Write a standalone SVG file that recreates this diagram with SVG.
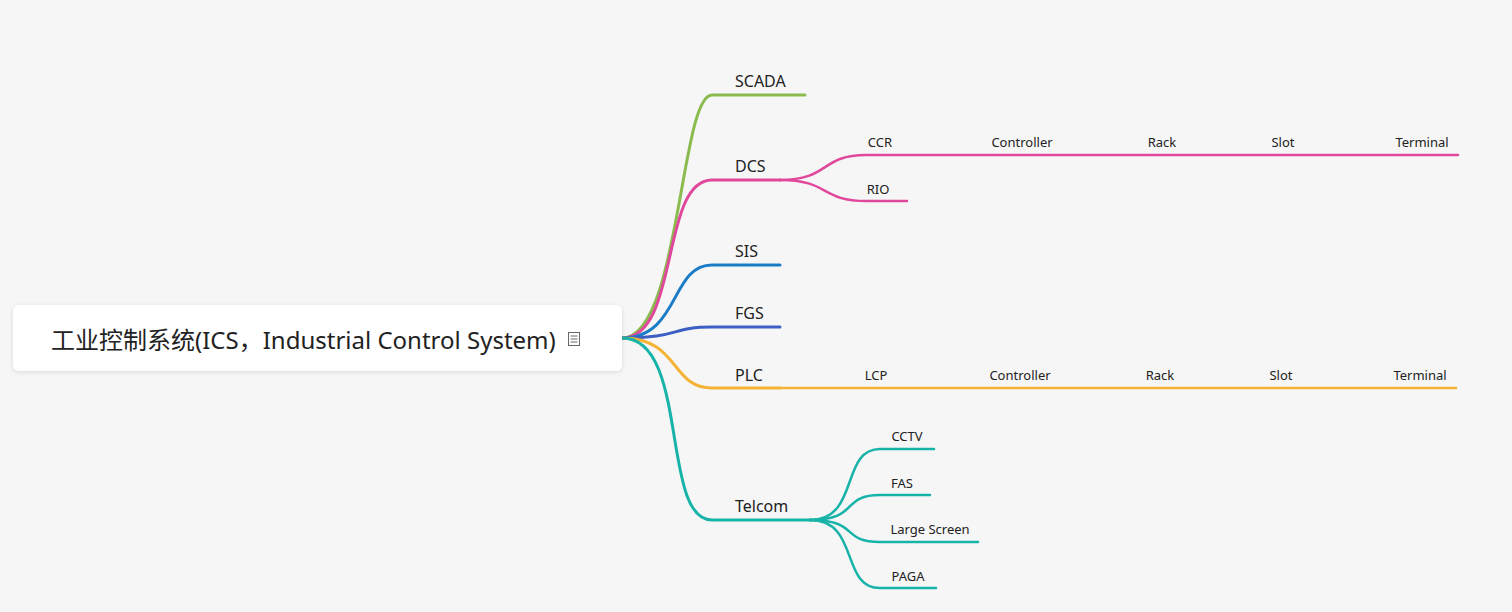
<svg xmlns="http://www.w3.org/2000/svg" width="1512" height="612" viewBox="0 0 1512 612">
<defs>
<filter id="sh" x="-5%" y="-30%" width="110%" height="160%"><feDropShadow dx="0" dy="1" stdDeviation="2" flood-color="#000" flood-opacity="0.12"/></filter>
<style>
text{font-family:"Noto Sans","Noto Sans CJK SC",sans-serif;fill:#222}
.b{font-size:16px}
.c{font-size:13px;text-anchor:middle}
path{fill:none;stroke-linecap:round}
.m{stroke-width:3}
.s{stroke-width:2.5}
</style>
</defs>
<rect width="1512" height="612" fill="#f6f6f6"/>
<g id="connectors">
<path class="m" stroke="#8bbb4f" d="M622 338 C680 338 680 95 712 95 L805 95"/>
<path class="m" stroke="#e0489c" d="M622 338 C680 338 660 180 712 180 L780 180"/>
<path class="m" stroke="#1a7cc7" d="M622 338 C680 338 670 265 712 265 L780 265"/>
<path class="m" stroke="#3d5fc4" d="M622 338 C680 338 670 327 712 327 L780 327"/>
<path class="m" stroke="#f5b335" d="M622 338 C680 338 670 388 712 388 L780 388"/>
<path class="m" stroke="#17b3a8" d="M622 338 C690 338 660 520 712 520 L810 520"/>
<path class="s" stroke="#e0489c" d="M780 180 C830 180 820 155 866 155 L1458 155"/>
<path class="s" stroke="#e0489c" d="M780 180 C830 180 820 201 866 201 L907 201"/>
<path class="s" stroke="#f5b335" d="M780 388 L1456 388"/>
<path class="s" stroke="#17b3a8" d="M810 520 C860 520 840 449 880 449 L934 449"/>
<path class="s" stroke="#17b3a8" d="M810 520 C860 520 840 495 880 495 L930 495"/>
<path class="s" stroke="#17b3a8" d="M810 520 C860 520 840 542 880 542 L978 542"/>
<path class="s" stroke="#17b3a8" d="M810 520 C860 520 840 588 880 588 L936 588"/>
</g>
<g id="root">
<rect x="13" y="305" width="609" height="66" rx="6" fill="#fff" filter="url(#sh)"/>
<text x="51" y="349" font-size="24">工业控制系统(ICS，Industrial Control System)</text>
<g stroke="#666" stroke-width="1" fill="none"><rect x="568.500" y="332.500" width="11" height="13"/><path d="M571 336h6M571 339h6M571 342h6"/></g>
</g>
<g id="n-scada"><text class="b" x="735" y="87">SCADA</text></g>
<g id="n-dcs"><text class="b" x="735" y="172">DCS</text></g>
<g id="n-sis"><text class="b" x="735" y="257">SIS</text></g>
<g id="n-fgs"><text class="b" x="735" y="319">FGS</text></g>
<g id="n-plc"><text class="b" x="735" y="381">PLC</text></g>
<g id="n-telcom"><text class="b" x="735" y="512">Telcom</text></g>
<g id="n-ccr"><text class="c" x="880" y="147">CCR</text></g>
<g id="n-dcs-controller"><text class="c" x="1022" y="147">Controller</text></g>
<g id="n-dcs-rack"><text class="c" x="1162" y="147">Rack</text></g>
<g id="n-dcs-slot"><text class="c" x="1283" y="147">Slot</text></g>
<g id="n-dcs-terminal"><text class="c" x="1422" y="147">Terminal</text></g>
<g id="n-rio"><text class="c" x="878" y="194">RIO</text></g>
<g id="n-lcp"><text class="c" x="876" y="380">LCP</text></g>
<g id="n-plc-controller"><text class="c" x="1020" y="380">Controller</text></g>
<g id="n-plc-rack"><text class="c" x="1160" y="380">Rack</text></g>
<g id="n-plc-slot"><text class="c" x="1281" y="380">Slot</text></g>
<g id="n-plc-terminal"><text class="c" x="1420" y="380">Terminal</text></g>
<g id="n-cctv"><text class="c" x="907" y="441">CCTV</text></g>
<g id="n-fas"><text class="c" x="902" y="488">FAS</text></g>
<g id="n-large"><text class="c" x="930" y="534">Large Screen</text></g>
<g id="n-paga"><text class="c" x="908" y="581">PAGA</text></g>
</svg>
